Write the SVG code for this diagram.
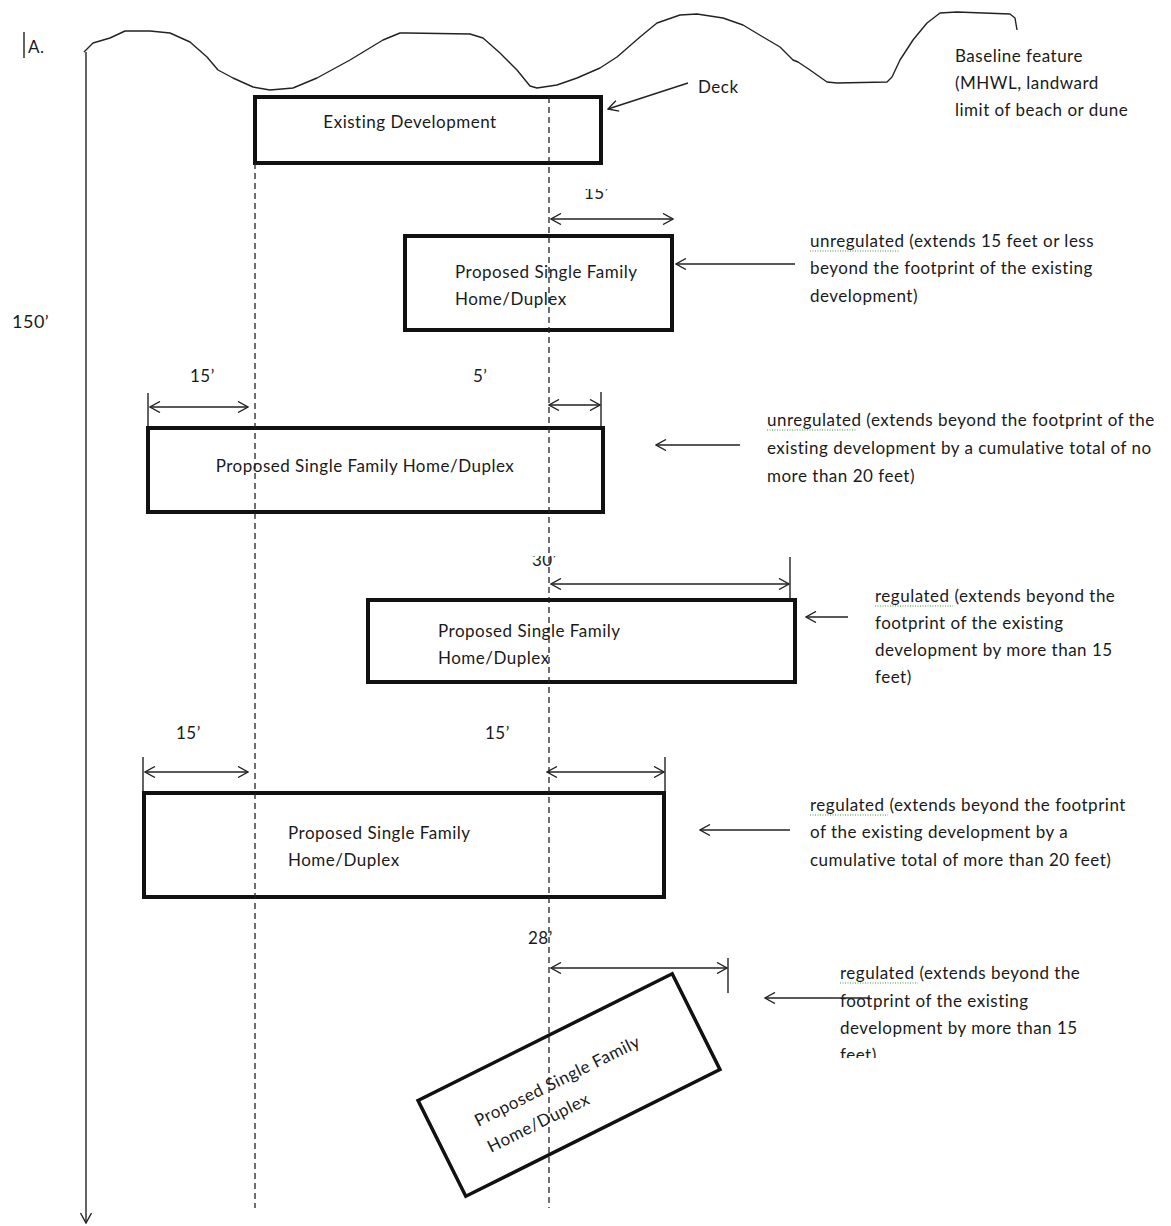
<svg xmlns="http://www.w3.org/2000/svg" width="1171" height="1226" viewBox="0 0 1171 1226">
<style>
text{font-family:Lato,"Liberation Sans",sans-serif;font-size:17px;letter-spacing:0.5px;fill:#1a1a1a}
.box{fill:none;stroke:#111;stroke-width:4}
.ln{fill:none;stroke:#222;stroke-width:1.4}
.dash{fill:none;stroke:#222;stroke-width:1.3;stroke-dasharray:6 4}
.arr{fill:none;stroke:#222;stroke-width:1.4;marker-end:url(#ah)}
.dim{fill:none;stroke:#222;stroke-width:1.4;marker-start:url(#ah);marker-end:url(#ah)}
.sp{fill:none;stroke:#3a9a3a;stroke-width:1.2;stroke-dasharray:1 1.5}
</style>
<defs>
<marker id="ah" viewBox="0 0 12 12" refX="11" refY="6" markerWidth="12" markerHeight="12" markerUnits="userSpaceOnUse" orient="auto-start-reverse">
<path d="M1,0.5 L11,6 L1,11.5" fill="none" stroke="#222" stroke-width="1.4"/>
</marker>
<clipPath id="c15"><rect x="560" y="189" width="80" height="30"/></clipPath>
<clipPath id="c30"><rect x="510" y="556" width="80" height="30"/></clipPath>
<clipPath id="cfeet"><rect x="830" y="1040" width="100" height="18"/></clipPath>
</defs>
<rect width="1171" height="1226" fill="#fff"/>

<g id="baseline-feature">
<polyline class="ln" stroke-linejoin="round" points="84,52 93,43 110,38 125,31 150,31 170,33 190,42 207,57 218,70 233,78 253,87 270,90 293,88 317,78 350,60 383,40 400,33 407,33 470,34 483,38 500,53 517,70 530,86 537,88 557,85 577,78 600,68 617,57 640,37 657,23 680,15 697,14 723,18 743,25 763,37 780,47 793,60 798,62 810,70 827,82 837,83 887,82 892,77 900,60 913,40 927,23 940,13 957,12 1010,14 1015,18 1017,30"/>
<text x="955" y="62">Baseline feature</text>
<text x="955" y="89">(MHWL, landward</text>
<text x="955" y="116">limit of beach or dune</text>
</g>

<g id="section-label">
<line class="ln" x1="24" y1="32" x2="24" y2="58" stroke-width="2"/>
<text x="28" y="53">A.</text>
<text x="12" y="328" style="font-size:18px">150’</text>
</g>

<g id="existing-development">
<rect class="box" x="255" y="97" width="346" height="66"/>
<text x="410" y="128" text-anchor="middle">Existing Development</text>
</g>
<g id="deck-label"><text x="698" y="93">Deck</text></g>

<g id="proposed-1">
<rect class="box" x="405" y="236" width="267" height="94"/>
<text x="455" y="278">Proposed Single Family</text>
<text x="455" y="305">Home/Duplex</text>
</g>
<g id="note-1">
<text x="810" y="247">unregulated (extends 15 feet or less</text>
<text x="810" y="274">beyond the footprint of the existing</text>
<text x="810" y="302">development)</text>
<line class="sp" x1="810" y1="251" x2="900" y2="251"/>
</g>

<g id="proposed-2">
<rect class="box" x="148" y="428" width="455" height="84"/>
<text x="365" y="472" text-anchor="middle">Proposed Single Family Home/Duplex</text>
</g>
<g id="note-2">
<text x="767" y="426">unregulated (extends beyond the footprint of the</text>
<text x="767" y="454">existing development by a cumulative total of no</text>
<text x="767" y="482">more than 20 feet)</text>
<line class="sp" x1="767" y1="430" x2="857" y2="430"/>
</g>

<g id="proposed-3">
<rect class="box" x="368" y="600" width="427" height="82"/>
<text x="438" y="637">Proposed Single Family</text>
<text x="438" y="664">Home/Duplex</text>
</g>
<g id="note-3">
<text x="875" y="602">regulated (extends beyond the</text>
<text x="875" y="629">footprint of the existing</text>
<text x="875" y="656">development by more than 15</text>
<text x="875" y="683">feet)</text>
<line class="sp" x1="875" y1="606" x2="953" y2="606"/>
</g>

<g id="proposed-4">
<rect class="box" x="144" y="793" width="520" height="104"/>
<text x="288" y="839">Proposed Single Family</text>
<text x="288" y="866">Home/Duplex</text>
</g>
<g id="note-4">
<text x="810" y="811">regulated (extends beyond the footprint</text>
<text x="810" y="838">of the existing development by a</text>
<text x="810" y="866">cumulative total of more than 20 feet)</text>
<line class="sp" x1="810" y1="815" x2="888" y2="815"/>
</g>

<g id="proposed-5" transform="translate(569,1085) rotate(-26.5)">
<rect x="-142" y="-53.5" width="284" height="107" fill="none" stroke="#111" stroke-width="3.5"/>
<text x="-100" y="-3">Proposed Single Family</text>
<text x="-100" y="26">Home/Duplex</text>
</g>
<g id="note-5">
<text x="840" y="979">regulated (extends beyond the</text>
<text x="840" y="1007">footprint of the existing</text>
<text x="840" y="1034">development by more than 15</text>
<text x="840" y="1061" clip-path="url(#cfeet)">feet)</text>
<line class="sp" x1="840" y1="983" x2="918" y2="983"/>
</g>

<g id="dimension-labels">
<text x="584" y="199" clip-path="url(#c15)">15’</text>
<text x="190" y="382">15’</text>
<text x="473" y="382">5’</text>
<text x="532" y="566" clip-path="url(#c30)">30’</text>
<text x="176" y="739">15’</text>
<text x="485" y="739">15’</text>
<text x="528" y="944">28’</text>
</g>

<g id="connectors">
<line class="arr" x1="86" y1="52" x2="86" y2="1223"/>
<line class="dash" x1="255" y1="163" x2="255" y2="1208"/>
<line class="dash" x1="549" y1="97" x2="549" y2="1208"/>
<line class="arr" x1="688" y1="83" x2="608" y2="109"/>
<line class="dim" x1="551" y1="219" x2="673" y2="219"/>
<line class="arr" x1="795" y1="264" x2="676" y2="264"/>
<line class="ln" x1="148" y1="393" x2="148" y2="426"/>
<line class="dim" x1="150" y1="407" x2="248" y2="407"/>
<line class="dim" x1="549" y1="405" x2="600" y2="405"/>
<line class="ln" x1="601" y1="392" x2="601" y2="426"/>
<line class="arr" x1="740" y1="445" x2="656" y2="445"/>
<line class="dim" x1="551" y1="584" x2="789" y2="584"/>
<line class="ln" x1="790" y1="557" x2="790" y2="598"/>
<line class="arr" x1="848" y1="617" x2="806" y2="617"/>
<line class="ln" x1="143" y1="757" x2="143" y2="791"/>
<line class="dim" x1="145" y1="772" x2="248" y2="772"/>
<line class="dim" x1="547" y1="772" x2="664" y2="772"/>
<line class="ln" x1="665" y1="757" x2="665" y2="791"/>
<line class="arr" x1="790" y1="830" x2="700" y2="830"/>
<line class="dim" x1="551" y1="968" x2="727" y2="968"/>
<line class="ln" x1="728" y1="958" x2="728" y2="993"/>
<line class="arr" x1="870" y1="998" x2="765" y2="998"/>
</g>
</svg>
